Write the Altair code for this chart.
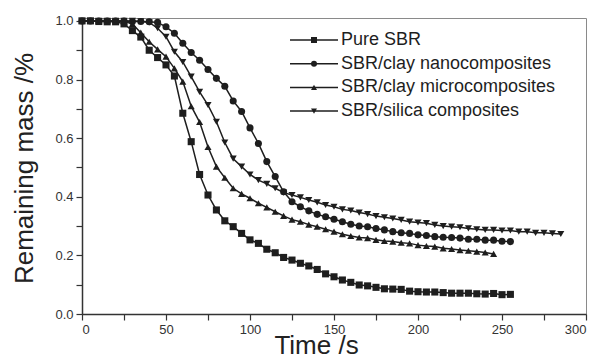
import altair as alt
import pandas as pd

series_names = ["Pure SBR", "SBR/clay nanocomposites", "SBR/clay microcomposites", "SBR/silica composites"]

time_pure = list(range(0, 256, 5))
mass_pure = [1.0, 1.0, 0.998, 0.997, 0.997, 0.99,
             0.967, 0.945, 0.90, 0.875, 0.85, 0.812, 0.685, 0.588, 0.476, 0.406,
             0.355, 0.318, 0.298, 0.275, 0.253, 0.241, 0.221, 0.209, 0.193, 0.184,
             0.173, 0.164, 0.152, 0.137, 0.127, 0.116, 0.108, 0.099, 0.096, 0.091,
             0.086, 0.085, 0.084, 0.078, 0.076, 0.075, 0.075, 0.073, 0.071, 0.071,
             0.071, 0.069, 0.068, 0.070, 0.066, 0.067]

time_nano = list(range(0, 256, 5))
mass_nano = [1.0, 1.0, 1.0, 1.0, 1.0, 1.0, 0.998, 0.998, 0.997, 0.995,
             0.98, 0.958, 0.924, 0.892, 0.866, 0.834, 0.804, 0.777, 0.727, 0.691,
             0.635, 0.582, 0.52, 0.469, 0.417, 0.383, 0.366, 0.352, 0.34, 0.332,
             0.323, 0.315, 0.306, 0.30, 0.298, 0.292, 0.287, 0.281, 0.277, 0.275,
             0.27, 0.268, 0.264, 0.262, 0.261, 0.259, 0.255, 0.255, 0.252, 0.252,
             0.248, 0.247]

time_micro = list(range(0, 246, 5))
mass_micro = [1.0, 1.0, 1.0, 1.0, 0.999, 0.998, 0.99, 0.96, 0.929, 0.903,
              0.878, 0.838, 0.793, 0.709, 0.655, 0.57, 0.503, 0.465, 0.429, 0.41,
              0.395, 0.378, 0.364, 0.349, 0.335, 0.322, 0.315, 0.305, 0.298, 0.289,
              0.281, 0.272, 0.266, 0.261, 0.259, 0.253, 0.249, 0.247, 0.243, 0.241,
              0.235, 0.232, 0.23, 0.224, 0.222, 0.218, 0.216, 0.213, 0.21, 0.205]

time_silica = list(range(0, 286, 5))
mass_silica = [1.0, 1.0, 1.0, 1.0, 1.0, 1.0, 1.0, 0.999, 0.995, 0.975,
               0.946, 0.895, 0.86, 0.81, 0.758, 0.713, 0.656, 0.585, 0.53, 0.503,
               0.476, 0.457, 0.444, 0.429, 0.414, 0.406, 0.398, 0.389, 0.381, 0.372,
               0.366, 0.357, 0.353, 0.346, 0.341, 0.334, 0.33, 0.326, 0.321, 0.315,
               0.312, 0.31, 0.304, 0.30, 0.298, 0.296, 0.292, 0.289, 0.287, 0.287,
               0.285, 0.285, 0.281, 0.281, 0.277, 0.277, 0.275, 0.273]

frames = []
for name, t, m in [(series_names[0], time_pure, mass_pure),
                   (series_names[1], time_nano, mass_nano),
                   (series_names[2], time_micro, mass_micro),
                   (series_names[3], time_silica, mass_silica)]:
    frames.append(pd.DataFrame({"series": name, "time": t, "mass": m}))
df = pd.concat(frames, ignore_index=True)

legend_df = pd.DataFrame({"series": series_names, "row": list(range(len(series_names)))})

FONT = "Liberation Sans"
INK = "#1e1e1e"

shape_scale = alt.Scale(domain=series_names,
                        range=["square", "circle", "triangle-up", "triangle-down"])

x_enc = alt.X("time:Q",
              scale=alt.Scale(domain=[0, 300], nice=False),
              axis=alt.Axis(values=list(range(0, 301, 25)),
                            labelExpr="datum.value % 50 == 0 ? datum.label : ''",
                            title="Time /s", titleX=234, titleY=39,
                            titleBaseline="alphabetic", titleAlign="center"))
y_enc = alt.Y("mass:Q",
              scale=alt.Scale(domain=[0, 1.01], nice=False),
              axis=alt.Axis(values=[0, 0.1, 0.2, 0.3, 0.4, 0.5, 0.6, 0.7, 0.8, 0.9, 1.0],
                            labelExpr="round(datum.value * 10) % 2 == 0 ? format(datum.value, '.1f') : ''",
                            title="Remaining mass /%", titleX=-50, titleY=150,
                            titleAngle=270, titleBaseline="alphabetic", titleAlign="center"))

lines = alt.Chart(df).mark_line(color=INK, strokeWidth=1.5).encode(
    x=x_enc, y=y_enc, detail="series:N")

points = alt.Chart(df).mark_point(filled=True, size=50, color=INK, opacity=1).encode(
    x=x_enc, y=y_enc,
    shape=alt.Shape("series:N", scale=shape_scale, legend=None))

# legend drawn inside the plot (top right)
leg_base = alt.Chart(legend_df).transform_calculate(py="22 + datum.row * 23.7")
leg_y = alt.Y("py:Q", scale=None, axis=None)

leg_rules = leg_base.mark_rule(color=INK, strokeWidth=1.5).encode(
    x=alt.value(208), x2=alt.value(256), y=leg_y)
leg_points = leg_base.mark_point(filled=True, size=36, color=INK, opacity=1).encode(
    x=alt.value(232), y=leg_y,
    shape=alt.Shape("series:N", scale=shape_scale, legend=None))
leg_text = leg_base.mark_text(align="left", baseline="middle", font=FONT, fontSize=18,
                              color=INK).encode(
    x=alt.value(259), y=leg_y, text="series:N")

chart = alt.layer(lines, points, leg_rules, leg_points, leg_text).properties(
    width=504, height=296,
    autosize=alt.AutoSizeParams(type="none"),
    padding={"left": 74, "top": 10, "right": 2, "bottom": 41},
).configure_view(stroke="#8a8a8a", strokeWidth=1).configure_axis(
    grid=False, domainColor="#333", domainWidth=1.5, tickColor="#333", tickSize=6,
    tickWidth=1.2, labelFont=FONT, labelFontSize=13, labelColor="#333", labelPadding=3,
    titleFont=FONT, titleFontSize=26, titleFontWeight="normal", titleColor="#222"
)

chart.save("out.html", embed_options={"renderer": "svg", "actions": False})
